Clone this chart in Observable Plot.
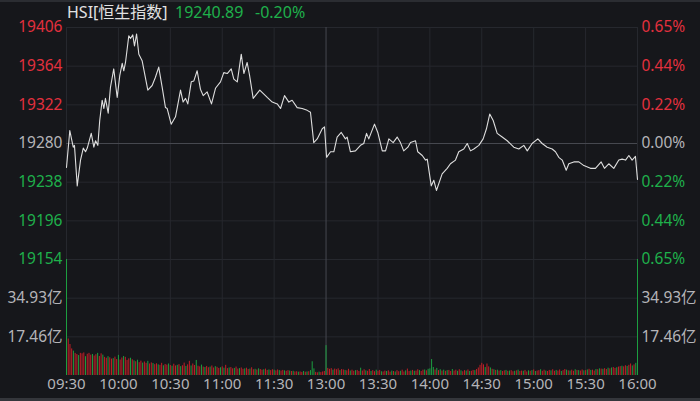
<!DOCTYPE html>
<html><head><meta charset="utf-8">
<script src="https://cdn.jsdelivr.net/npm/d3@7"></script>
<script src="https://cdn.jsdelivr.net/npm/@observablehq/plot@0.6"></script>
<style>
html,body{margin:0;padding:0;background:#16171b;}
#wrap{position:relative;width:700px;height:401px;background:#16171b;overflow:hidden;font-family:"Noto Sans","Noto Sans CJK SC",sans-serif;}
#wrap svg{position:absolute;left:0;overflow:visible;background:transparent;}
.hdr{position:absolute;top:0px;font-size:16px;line-height:24px;white-space:nowrap;}
.bar{position:absolute;left:0;width:700px;background:#2b2d32;}
</style></head>
<body><div id="wrap"></div>
<script>
// ---- data ----
const indexName = "HSI[恒生指数]";
const lastPrice = "19240.89";
const lastChange = "-0.20%";
const prevClose = 19280;
const priceTicks = [19406, 19364, 19322, 19280, 19238, 19196, 19154];
const pctLabels = ["0.65%", "0.44%", "0.22%", "0.00%", "0.22%", "0.44%", "0.65%"];
const volTicks = [17.46, 34.93];
const volTop = 52.4;
const timeTicks = [0, 30, 60, 90, 120, 150, 180, 210, 240, 270, 300, 330];
const timeLabels = ["09:30","10:00","10:30","11:00","11:30","13:00","13:30","14:00","14:30","15:00","15:30","16:00"];
// trading minutes since 09:30 (lunch removed) and index level
const minutes = [0,1.9,3.9,4.6,6.2,8.1,9.7,11,12,14.3,15.8,16.8,18.1,19.2,20.6,21.6,22.5,24.1,25.4,27.3,29.3,30.8,32.2,33.1,34.1,36,37,38.3,39.3,40.5,41.8,43.7,47,49.5,51.4,53.3,55.3,57.2,58.2,60.5,63,65.9,67.4,68.8,70.1,72.1,73.6,75.5,77.4,79,81.3,83.8,86.1,89,90.9,92.9,95.2,96.7,98.7,101,102.5,104.4,105.8,107.9,111.7,116,118.9,121.8,123.7,126,128.5,130.4,133.3,136.2,139.1,141,142.9,144.9,147.8,149.1,150.3,152.6,154.5,156.4,158.8,161.2,162.2,164.1,167,169.9,171.8,173.4,174.7,178,179.9,182.5,184.4,186.3,188.8,191.1,193,194.9,197.3,198.8,201.7,203,205.6,207.5,208.5,210.8,212.3,213.8,217.1,220,221.9,224.8,226.7,229.6,231.6,233.5,235.4,238.3,240.8,242.7,244.6,246.6,248.9,251.8,254.7,258.5,261.4,264.3,266.3,269.1,272.4,274.9,277.8,280.7,282.6,284.5,286.5,288.8,290.3,293.2,296.1,299,302.8,305.7,309,310.9,313.4,316.3,319.2,321.1,323.1,325,326.9,328.8,330];
const prices = [19254,19294,19276,19278,19234,19262,19275,19271,19275,19291,19276,19283,19278,19305,19327,19318,19329,19313,19341,19361,19330,19354,19367,19359,19368,19397,19394,19398,19386,19399,19377,19370,19338,19343,19352,19363,19341,19319,19318,19301,19309,19338,19325,19329,19323,19347,19348,19359,19339,19332,19336,19323,19340,19347,19357,19356,19361,19350,19347,19377,19356,19368,19354,19329,19338,19330,19325,19323,19318,19332,19325,19327,19319,19318,19316,19314,19281,19285,19296,19298,19265,19271,19271,19287,19292,19285,19287,19271,19272,19278,19280,19291,19285,19301,19292,19272,19272,19285,19281,19287,19281,19272,19276,19281,19283,19271,19267,19262,19263,19234,19240,19229,19247,19253,19258,19262,19271,19274,19280,19272,19274,19278,19285,19296,19312,19305,19291,19287,19283,19276,19274,19278,19272,19280,19285,19280,19276,19274,19271,19265,19262,19251,19258,19260,19260,19256,19253,19253,19260,19253,19258,19253,19262,19263,19262,19267,19262,19266,19240.89];
// per-minute turnover in 亿 (positive = red/up minute, negative = green/down minute)
const volumes = [
-52.4,16.5,14,12,-11,10,9.5,-9,10,9.8,
10.2,-8.5,9.6,10,9.2,-9.5,8.8,9.4,-10,8.6,
9.8,-9.2,8.2,7.8,-8.5,8,7.4,-7.6,8.3,7.2,
-9.1,7,7.9,-8.6,8.2,6.8,7.5,-7.8,7.1,-6.6,
6.2,-6.9,5.8,6.5,-5.6,6.1,5.5,-6.4,5.2,5.7,
-5.4,4.9,5.3,-4.8,4.6,5.5,-4.4,5.0,4.7,-5.2,
4.5,-4.2,5.1,4.3,-4.6,4.9,-4.0,4.4,5.6,-4.1,
4.8,6.4,-4.3,5.2,4.5,-6.8,4.2,3.9,-4.7,3.8,
-3.6,4.1,3.5,-3.8,4.3,3.4,-4.0,3.7,3.2,-3.5,
3.9,-3.3,4.6,3.1,-3.4,3.6,3.0,-3.2,3.8,2.9,
-3.1,3.4,2.8,-3.0,3.3,2.7,-2.9,3.5,2.6,-2.8,
2.5,-3.0,2.7,2.4,-2.6,2.9,2.3,-2.5,2.2,2.6,
-2.4,2.1,2.5,-2.2,2.0,2.3,-2.1,1.9,2.2,-2.0,
1.8,-1.9,1.6,1.7,-1.5,1.6,1.4,-1.8,1.5,-1.6,
1.7,-2.2,-6.2,-3.0,1.4,1.2,-1.5,1.3,1.6,1.8,
-13.5,3.2,2.8,3.1,-2.4,2.9,2.6,3.0,-2.2,2.7,
2.5,-2.3,2.1,2.8,-2.0,2.4,1.9,-2.2,2.3,1.8,
-3.3,2.0,2.6,-2.1,1.9,2.7,-1.8,2.2,1.7,-2.4,
1.9,2.3,-1.7,1.6,2.0,-1.8,2.1,1.5,-2.0,1.8,
-1.6,2.2,1.7,-1.9,2.4,1.6,-2.1,2.9,1.8,-2.0,
2.3,-1.9,2.0,2.6,-2.2,1.8,2.4,-2.5,2.1,-2.8,
-3.0,-7.2,-3.6,2.5,-3.2,2.2,-2.6,2.0,-2.4,1.9,
-2.2,2.3,1.8,-2.7,2.0,2.4,-1.9,2.6,-2.1,1.7,
2.2,-2.0,2.5,-1.8,1.9,2.3,-2.2,2.7,3.4,4.6,
5.5,4.8,-3.6,5.2,3.9,-3.4,2.8,-2.6,2.3,-2.4,
2.0,-2.2,1.8,2.1,-2.3,1.9,-2.0,2.2,1.7,-1.9,
2.1,-2.4,1.8,2.0,-1.9,2.3,1.6,-2.1,1.9,-2.2,
2.5,-1.8,2.0,2.2,-2.6,1.9,2.4,-2.0,1.8,2.3,
-2.1,2.6,1.9,-2.3,2.0,2.5,-1.8,2.2,2.7,-2.4,
2.1,-2.0,2.4,1.9,-2.6,2.3,-2.2,2.0,2.5,-2.1,
2.2,-2.5,2.8,-2.3,2.4,2.0,-2.7,2.6,-3.0,2.9,
-2.8,3.1,2.7,-3.3,3.0,-3.4,3.6,3.2,-3.5,3.8,
4.0,-4.2,3.9,4.4,-4.1,4.6,5.2,-4.3,4.8,-5.5,
-52.4];

// ---- style ----
const RED = "#e3303e", GREEN = "#1fb04b", GREY = "#b4b4b8", GRID = "#26282e", MID = "#46484f";
const BAR_RED = "#c21f27", BAR_GREEN = "#1c9e40";
const FONT = '"Noto Sans","Noto Sans CJK SC",sans-serif';
const levelColor = d => d > prevClose ? RED : d < prevClose ? GREEN : GREY;
const wrap = document.getElementById("wrap");

function addDiv(cls, style, text) {
  const el = document.createElement("div");
  el.className = cls; el.setAttribute("style", style);
  if (text != null) el.textContent = text;
  wrap.appendChild(el);
}
addDiv("bar", "top:0;height:2px;");
addDiv("bar", "bottom:0;height:3px;background:#34363b;");
addDiv("hdr", "left:67px;color:#e2e2e2;", indexName);
addDiv("hdr", "left:175px;color:" + GREEN + ";", lastPrice);
addDiv("hdr", "left:255px;color:" + GREEN + ";", lastChange);

const priceRows = minutes.map((t, i) => ({t, p: prices[i]}));
const volRows = volumes.map((v, t) => ({t, v: Math.abs(v), c: v >= 0 ? BAR_RED : BAR_GREEN}));
const midT = 150;

const common = {
  width: 700, marginLeft: 66, marginRight: 63,
  x: {domain: [0, 330], axis: null},
  color: {type: "identity"},
  style: {background: "transparent", overflow: "visible", fontFamily: FONT}
};

const priceChart = Plot.plot({
  ...common,
  height: 262, marginTop: 27, marginBottom: 3,
  y: {domain: [19154, 19406], axis: null},
  marks: [
    Plot.ruleY(priceTicks.filter(d => d !== prevClose), {stroke: GRID}),
    Plot.ruleX(timeTicks.filter(d => d !== midT), {stroke: GRID}),
    Plot.ruleY([prevClose], {stroke: MID}),
    Plot.ruleX([midT], {stroke: MID}),
    Plot.line(priceRows, {x: "t", y: "p", stroke: "#dedede", strokeWidth: 1.1}),
    Plot.text(priceTicks, {y: d => d, frameAnchor: "left", dx: -4, textAnchor: "end",
      text: d => String(d), fill: levelColor, fontSize: 15.5}),
    Plot.text(priceTicks, {y: d => d, frameAnchor: "right", dx: 4, textAnchor: "start",
      text: (d, i) => pctLabels[i], fill: levelColor, fontSize: 15.5})
  ]
});
priceChart.style.top = "0px";
wrap.appendChild(priceChart);

const volChart = Plot.plot({
  ...common,
  height: 142, marginTop: 0, marginBottom: 26,
  y: {domain: [0, volTop], axis: null},
  marks: [
    Plot.ruleY(volTicks, {stroke: GRID}),
    Plot.ruleX(timeTicks.filter(d => d !== midT), {stroke: GRID}),
    Plot.ruleX([midT], {stroke: MID}),
    Plot.ruleX(volRows, {x: "t", y1: 0, y2: "v", stroke: "c", strokeWidth: 1}),
    Plot.text(volTicks, {y: d => d, frameAnchor: "left", dx: -4, textAnchor: "end",
      text: d => d.toFixed(2) + "亿", fill: GREY, fontSize: 15.5}),
    Plot.text(volTicks, {y: d => d, frameAnchor: "right", dx: 4, textAnchor: "start",
      text: d => d.toFixed(2) + "亿", fill: GREY, fontSize: 15.5}),
    Plot.text(timeTicks, {x: d => d, frameAnchor: "bottom", dy: 13,
      text: (d, i) => timeLabels[i], fill: GREY, fontSize: 15})
  ]
});
volChart.style.top = "259px";
wrap.appendChild(volChart);
</script>
</body></html>
